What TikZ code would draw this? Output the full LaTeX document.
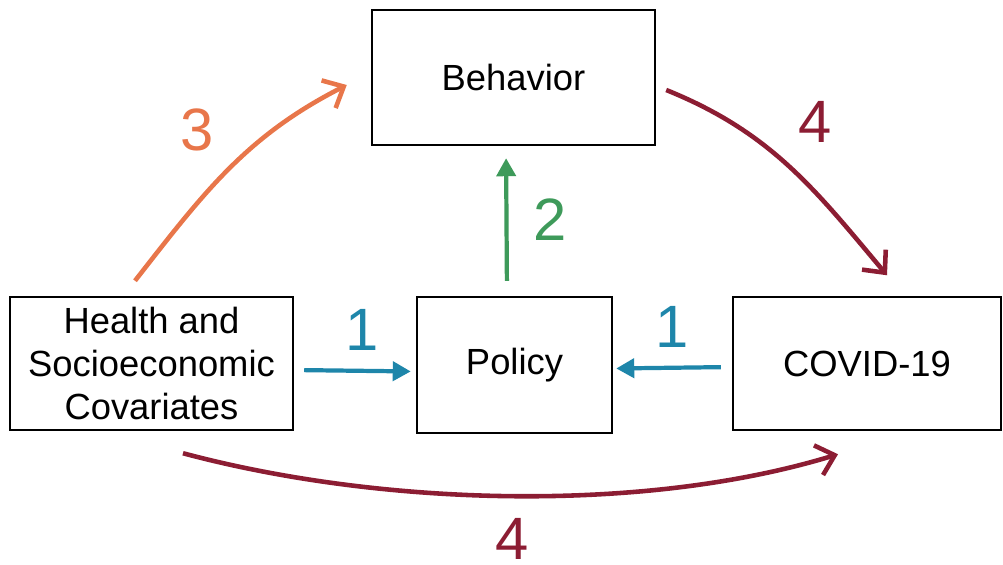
\documentclass[tikz,border=0pt]{standalone}
\usepackage{fontspec}
\setmainfont{Liberation Sans}
\usepackage[HTML]{xcolor}
\usepackage{tikz}
\usetikzlibrary{positioning, arrows.meta}

\definecolor{orangeC}{HTML}{E8764A}
\definecolor{redC}{HTML}{8C1D33}
\definecolor{blueC}{HTML}{1E86AA}
\definecolor{greenC}{HTML}{3E9A5A}

\begin{document}
\begin{tikzpicture}[
  box/.style={draw, line width=1.4pt, align=center, inner sep=0pt,
    font=\fontsize{20.7}{24.4}\selectfont},
  num/.style={font=\fontsize{34}{40}\selectfont},
  filled/.style={line width=2.4pt, -{Triangle[length=0.36cm,width=0.38cm]}},
  barb/.style={line width=2.6pt, -{Straight Barb[length=0.34cm,width=0.62cm]}}
]
\useasboundingbox (0,0) rectangle (20.06,11.28);

% boxes
\node[box, minimum width=5.66cm, minimum height=2.7cm] (behavior) at (10.27,9.73) {Behavior};
\node[box, minimum width=5.66cm, minimum height=2.66cm] (health) at (3.03,4.01)
  {Health and\\Socioeconomic\\Covariates};
\node[box, minimum width=3.9cm, minimum height=2.72cm] (policy) at (10.29,3.98) {Policy};
\node[box, minimum width=5.36cm, minimum height=2.66cm] (covid) at (17.34,4.01) {COVID-19};

% arrows
\draw[filled, blueC, shorten <=0.2cm, shorten >=0.1cm]
  ([yshift=-0.13cm]health.east) -- ([yshift=-0.13cm]policy.west);
\draw[filled, blueC, shorten <=0.22cm, shorten >=0.06cm]
  ([yshift=-0.07cm]covid.west) -- ([yshift=-0.07cm]policy.east);
\draw[filled, greenC, shorten <=0.3cm, shorten >=0.24cm]
  ([xshift=-0.15cm]policy.north) -- ([xshift=-0.15cm]behavior.south);
\draw[barb, orangeC]
  ([xshift=-0.33cm,yshift=0.3cm]health.north) to[out=52,in=207]
  ([xshift=-0.48cm,yshift=-0.15cm]behavior.west);
\draw[barb, redC]
  ([xshift=0.2cm,yshift=-0.25cm]behavior.east) to[out=-22,in=130]
  ([xshift=0.4cm,yshift=0.41cm]covid.north);
\draw[barb, redC]
  ([xshift=0.63cm,yshift=-0.44cm]health.south) to[out=-15,in=197,looseness=0.8]
  ([xshift=-0.58cm,yshift=-0.46cm]covid.south);

% labels
\node[num, blueC] (oneL) at (7.24,4.68) {1};
\node[num, blueC] (oneR) at (13.44,4.74) {1};
\node[num, greenC] (two) at (11.0,6.88) {2};
\node[num, orangeC] (three) at (3.94,8.68) {3};
\node[num, redC] (fourT) at (16.3,8.84) {4};
\node[num, redC] (fourB) at (10.24,0.5) {4};
\end{tikzpicture}
\end{document}
